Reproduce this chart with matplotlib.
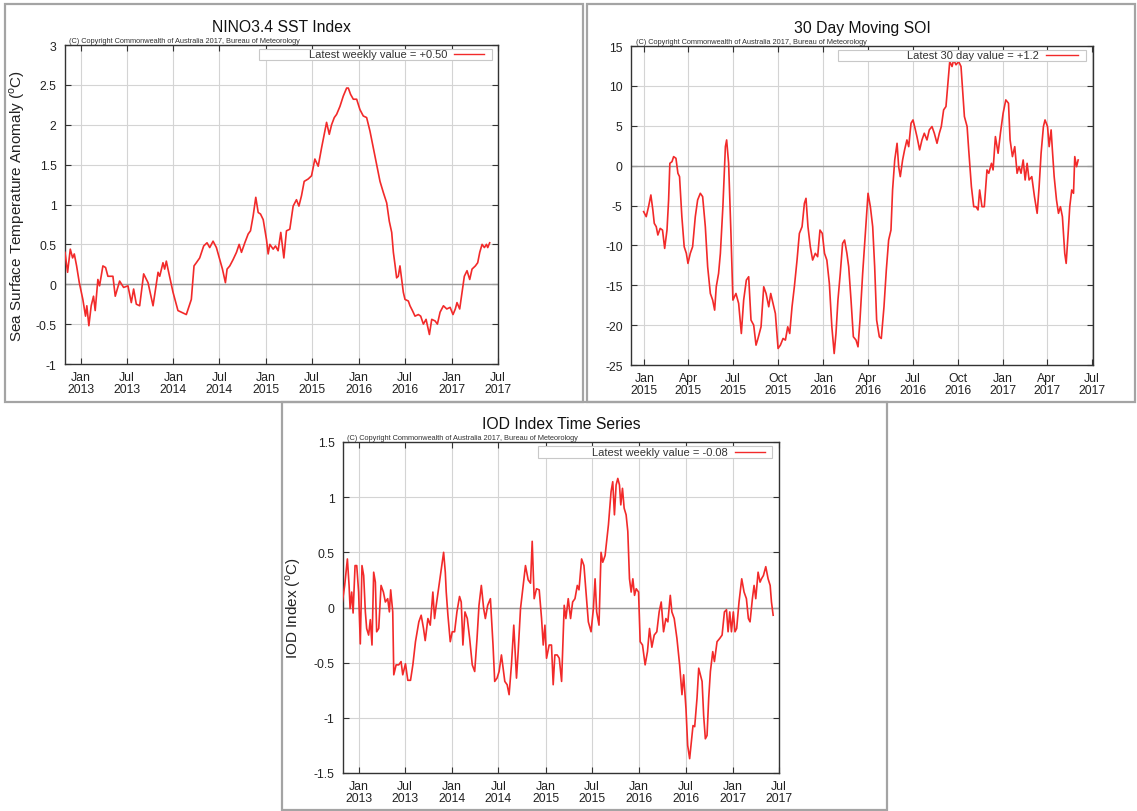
#!/usr/bin/env python3
from datetime import datetime, timedelta

import matplotlib
matplotlib.use("Agg")
import matplotlib.pyplot as plt
import matplotlib.dates as mdates
from matplotlib.patches import Rectangle
from matplotlib.lines import Line2D
from matplotlib.ticker import MultipleLocator, FuncFormatter

plt.rcParams["font.family"] = ["Liberation Sans", "DejaVu Sans"]
plt.rcParams["mathtext.fontset"] = "custom"
plt.rcParams["mathtext.rm"] = "Liberation Sans"
plt.rcParams["axes.unicode_minus"] = False

# NINO3.4 weekly SST anomaly (decimal year, degC)
nino_t = [2012.835, 2012.863, 2012.892, 2012.917, 2012.935, 2012.960, 2012.989, 2013.025,
          2013.054, 2013.068, 2013.090, 2013.115, 2013.140, 2013.158, 2013.187, 2013.205,
          2013.241, 2013.270, 2013.295, 2013.349, 2013.374, 2013.421, 2013.464, 2013.511,
          2013.547, 2013.572, 2013.601, 2013.637, 2013.680, 2013.727, 2013.781, 2013.835,
          2013.853, 2013.888, 2013.906, 2013.924, 2013.942, 2013.996, 2014.050, 2014.086,
          2014.140, 2014.194, 2014.223, 2014.248, 2014.284, 2014.327, 2014.363, 2014.392,
          2014.428, 2014.464, 2014.500, 2014.529, 2014.561, 2014.579, 2014.608, 2014.644,
          2014.680, 2014.709, 2014.734, 2014.770, 2014.806, 2014.831, 2014.860, 2014.888,
          2014.914, 2014.939, 2014.968, 2015.004, 2015.022, 2015.040, 2015.076, 2015.101,
          2015.129, 2015.158, 2015.191, 2015.219, 2015.255, 2015.291, 2015.327, 2015.353,
          2015.381, 2015.410, 2015.453, 2015.489, 2015.525, 2015.561, 2015.597, 2015.633,
          2015.651, 2015.680, 2015.705, 2015.734, 2015.759, 2015.795, 2015.831, 2015.867,
          2015.885, 2015.910, 2015.939, 2015.975, 2016.011, 2016.047, 2016.083, 2016.119,
          2016.155, 2016.191, 2016.227, 2016.263, 2016.299, 2016.327, 2016.353, 2016.371,
          2016.388, 2016.406, 2016.424, 2016.442, 2016.460, 2016.478, 2016.496, 2016.532,
          2016.550, 2016.576, 2016.604, 2016.640, 2016.665, 2016.694, 2016.723, 2016.759,
          2016.784, 2016.820, 2016.845, 2016.874, 2016.910, 2016.946, 2016.982, 2017.011,
          2017.036, 2017.054, 2017.083, 2017.108, 2017.133, 2017.162, 2017.191, 2017.216,
          2017.252, 2017.277, 2017.299, 2017.324, 2017.349, 2017.371, 2017.385, 2017.406]
nino_v = [0.40, 0.15, 0.44, 0.33, 0.38, 0.23, 0.02, -0.19,
          -0.40, -0.27, -0.52, -0.27, -0.15, -0.33, 0.06, -0.02,
          0.23, 0.21, 0.10, 0.10, -0.15, 0.04, -0.04, -0.02,
          -0.23, -0.06, -0.25, -0.27, 0.13, 0.02, -0.27, 0.15,
          0.10, 0.27, 0.19, 0.29, 0.19, -0.10, -0.33, -0.35,
          -0.38, -0.19, 0.23, 0.27, 0.33, 0.48, 0.52, 0.46,
          0.54, 0.46, 0.31, 0.19, 0.02, 0.19, 0.23, 0.31,
          0.40, 0.50, 0.40, 0.52, 0.63, 0.67, 0.86, 1.09,
          0.90, 0.88, 0.81, 0.56, 0.38, 0.50, 0.44, 0.48,
          0.42, 0.65, 0.33, 0.67, 0.69, 0.98, 1.06, 0.98,
          1.11, 1.29, 1.32, 1.36, 1.57, 1.48, 1.71, 1.92,
          2.03, 1.88, 2.00, 2.09, 2.13, 2.23, 2.36, 2.46,
          2.46, 2.38, 2.32, 2.32, 2.19, 2.11, 2.09, 1.92,
          1.71, 1.50, 1.29, 1.15, 1.02, 0.79, 0.65, 0.40,
          0.25, 0.08, 0.10, 0.23, 0.06, -0.10, -0.19, -0.21,
          -0.27, -0.33, -0.40, -0.38, -0.40, -0.50, -0.44, -0.63,
          -0.44, -0.46, -0.50, -0.35, -0.27, -0.31, -0.29, -0.38,
          -0.31, -0.23, -0.31, -0.10, 0.10, 0.17, 0.06, 0.19,
          0.23, 0.27, 0.40, 0.50, 0.46, 0.50, 0.46, 0.52]

# 30 day moving SOI (decimal year, index)
soi_t = [2014.996, 2015.011, 2015.024, 2015.037, 2015.048, 2015.056, 2015.067, 2015.076,
         2015.089, 2015.102, 2015.114, 2015.127, 2015.136, 2015.143, 2015.155, 2015.164,
         2015.177, 2015.188, 2015.197, 2015.210, 2015.223, 2015.235, 2015.244, 2015.257,
         2015.270, 2015.285, 2015.298, 2015.313, 2015.326, 2015.341, 2015.354, 2015.369,
         2015.382, 2015.393, 2015.402, 2015.415, 2015.425, 2015.439, 2015.453, 2015.460,
         2015.471, 2015.484, 2015.495, 2015.512, 2015.527, 2015.542, 2015.555, 2015.570,
         2015.583, 2015.596, 2015.611, 2015.624, 2015.635, 2015.652, 2015.667, 2015.680,
         2015.695, 2015.706, 2015.719, 2015.732, 2015.747, 2015.760, 2015.775, 2015.788,
         2015.801, 2015.812, 2015.825, 2015.838, 2015.853, 2015.866, 2015.881, 2015.894,
         2015.903, 2015.914, 2015.927, 2015.940, 2015.955, 2015.968, 2015.981, 2015.994,
         2016.007, 2016.020, 2016.034, 2016.048, 2016.061, 2016.071, 2016.082, 2016.095,
         2016.108, 2016.119, 2016.132, 2016.142, 2016.155, 2016.168, 2016.183, 2016.194,
         2016.205, 2016.220, 2016.235, 2016.250, 2016.263, 2016.276, 2016.287, 2016.298,
         2016.313, 2016.324, 2016.339, 2016.352, 2016.365, 2016.378, 2016.387, 2016.399,
         2016.412, 2016.421, 2016.430, 2016.443, 2016.454, 2016.467, 2016.477, 2016.490,
         2016.501, 2016.510, 2016.523, 2016.538, 2016.551, 2016.564, 2016.579, 2016.592,
         2016.607, 2016.620, 2016.635, 2016.648, 2016.659, 2016.672, 2016.685, 2016.696,
         2016.706, 2016.719, 2016.728, 2016.741, 2016.756, 2016.769, 2016.778, 2016.788,
         2016.803, 2016.812, 2016.827, 2016.840, 2016.853, 2016.864, 2016.873, 2016.886,
         2016.899, 2016.914, 2016.924, 2016.939, 2016.948, 2016.961, 2016.976, 2016.989,
         2017.002, 2017.017, 2017.032, 2017.041, 2017.054, 2017.067, 2017.080, 2017.091,
         2017.102, 2017.114, 2017.125, 2017.136, 2017.147, 2017.162, 2017.177, 2017.192,
         2017.203, 2017.214, 2017.227, 2017.236, 2017.250, 2017.259, 2017.270, 2017.277,
         2017.287, 2017.300, 2017.311, 2017.322, 2017.333, 2017.346, 2017.354, 2017.365,
         2017.374, 2017.385, 2017.395, 2017.402, 2017.412, 2017.421]
soi_v = [-5.77, -6.40, -5.15, -3.68, -5.56, -7.24, -7.66, -8.70,
         -7.87, -8.08, -10.38, -8.08, -4.31, 0.29, 0.50, 1.13,
         0.92, -0.96, -1.38, -6.40, -10.17, -11.00, -12.26, -11.00,
         -10.17, -6.40, -4.31, -3.47, -3.89, -7.66, -12.68, -16.03,
         -16.86, -18.12, -15.19, -13.51, -11.00, -5.15, 2.38, 3.22,
         0.29, -8.50, -16.86, -16.03, -17.28, -21.05, -16.86, -14.35,
         -13.93, -19.37, -20.00, -22.51, -21.67, -20.21, -15.19, -16.03,
         -17.70, -16.03, -17.28, -18.54, -22.93, -22.51, -21.67, -21.88,
         -20.21, -21.05, -17.70, -15.19, -11.84, -8.50, -7.66, -4.73,
         -4.10, -7.66, -10.17, -11.84, -11.00, -11.42, -8.08, -8.50,
         -11.00, -11.84, -14.77, -20.21, -23.56, -21.05, -16.86, -13.51,
         -9.75, -9.33, -11.00, -12.68, -16.86, -21.46, -21.88, -22.72,
         -19.37, -13.51, -8.50, -3.47, -5.15, -7.66, -12.68, -19.37,
         -21.46, -21.67, -17.70, -13.10, -9.33, -8.08, -3.05, 0.71,
         2.80, -0.13, -1.38, 0.71, 1.97, 3.22, 2.38, 5.31,
         5.73, 4.90, 3.64, 1.97, 3.22, 4.06, 3.22, 4.48,
         4.90, 4.06, 2.80, 4.06, 4.90, 6.99, 7.41, 10.33,
         13.05, 12.43, 13.26, 12.64, 13.05, 12.43, 9.50, 6.15,
         4.90, 1.97, -2.64, -5.15, -5.15, -5.56, -3.05, -5.15,
         -5.15, -0.54, -0.96, 0.29, -0.54, 3.64, 1.55, 4.06,
         6.57, 8.24, 7.82, 3.22, 1.13, 2.38, -0.96, -0.13,
         -0.96, 0.71, -1.80, 0.29, -1.80, -1.38, -3.89, -5.98,
         -2.64, 1.55, 4.90, 5.73, 4.90, 2.38, 4.48, 1.97,
         -1.38, -4.31, -5.98, -5.15, -6.40, -11.00, -12.26, -8.50,
         -5.15, -3.05, -3.47, 1.13, -0.13, 0.71]

# IOD weekly index (decimal year, degC)
iod_t = [2012.828, 2012.853, 2012.882, 2012.900, 2012.911, 2012.928, 2012.943, 2012.964,
         2012.982, 2013.000, 2013.018, 2013.036, 2013.054, 2013.072, 2013.086, 2013.107,
         2013.125, 2013.143, 2013.161, 2013.179, 2013.193, 2013.215, 2013.240, 2013.265,
         2013.286, 2013.311, 2013.329, 2013.343, 2013.365, 2013.376, 2013.401, 2013.429,
         2013.454, 2013.472, 2013.501, 2013.526, 2013.555, 2013.580, 2013.608, 2013.644,
         2013.669, 2013.694, 2013.712, 2013.741, 2013.766, 2013.794, 2013.812, 2013.830,
         2013.855, 2013.884, 2013.909, 2013.927, 2013.937, 2013.955, 2013.980, 2014.002,
         2014.027, 2014.052, 2014.080, 2014.098, 2014.116, 2014.138, 2014.163, 2014.188,
         2014.216, 2014.242, 2014.267, 2014.288, 2014.313, 2014.338, 2014.356, 2014.381,
         2014.410, 2014.438, 2014.456, 2014.481, 2014.503, 2014.528, 2014.546, 2014.564,
         2014.589, 2014.610, 2014.635, 2014.660, 2014.689, 2014.707, 2014.732, 2014.760,
         2014.785, 2014.814, 2014.839, 2014.857, 2014.878, 2014.903, 2014.932, 2014.957,
         2014.975, 2014.993, 2015.011, 2015.039, 2015.064, 2015.082, 2015.100, 2015.125,
         2015.147, 2015.172, 2015.200, 2015.218, 2015.243, 2015.268, 2015.290, 2015.315,
         2015.340, 2015.358, 2015.386, 2015.411, 2015.433, 2015.458, 2015.487, 2015.512,
         2015.530, 2015.547, 2015.572, 2015.594, 2015.612, 2015.637, 2015.673, 2015.701,
         2015.719, 2015.737, 2015.755, 2015.773, 2015.791, 2015.805, 2015.823, 2015.841,
         2015.862, 2015.880, 2015.898, 2015.916, 2015.934, 2015.952, 2015.970, 2015.995,
         2016.013, 2016.038, 2016.066, 2016.091, 2016.113, 2016.138, 2016.163, 2016.191,
         2016.216, 2016.238, 2016.263, 2016.288, 2016.309, 2016.335, 2016.352, 2016.377,
         2016.406, 2016.435, 2016.460, 2016.478, 2016.503, 2016.521, 2016.542, 2016.560,
         2016.578, 2016.596, 2016.621, 2016.639, 2016.657, 2016.675, 2016.692, 2016.710,
         2016.728, 2016.746, 2016.764, 2016.789, 2016.807, 2016.835, 2016.864, 2016.889,
         2016.914, 2016.936, 2016.953, 2016.971, 2016.989, 2017.007, 2017.025, 2017.043,
         2017.068, 2017.097, 2017.122, 2017.147, 2017.168, 2017.186, 2017.211, 2017.229,
         2017.247, 2017.272, 2017.293, 2017.308, 2017.329, 2017.354, 2017.379, 2017.401,
         2017.415, 2017.433]
iod_v = [0.05, 0.20, 0.44, 0.20, -0.01, 0.14, -0.05, 0.38,
         0.38, 0.14, -0.33, 0.38, 0.29, -0.04, -0.19, -0.25,
         -0.11, -0.34, 0.32, 0.23, -0.22, -0.19, 0.20, 0.14,
         0.05, 0.08, -0.04, 0.16, -0.04, -0.61, -0.52, -0.52,
         -0.49, -0.61, -0.51, -0.66, -0.66, -0.52, -0.31, -0.13,
         -0.07, -0.19, -0.30, -0.10, -0.16, 0.14, -0.10, 0.02,
         0.17, 0.34, 0.50, 0.32, 0.14, -0.07, -0.31, -0.22,
         -0.22, -0.04, 0.10, 0.05, -0.34, -0.04, -0.10, -0.28,
         -0.52, -0.58, -0.28, 0.02, 0.20, -0.01, -0.10, 0.02,
         0.08, -0.34, -0.67, -0.64, -0.58, -0.43, -0.55, -0.67,
         -0.70, -0.79, -0.52, -0.16, -0.64, -0.40, -0.01, 0.20,
         0.38, 0.25, 0.22, 0.60, 0.08, 0.17, 0.16, -0.10,
         -0.34, -0.16, -0.46, -0.34, -0.34, -0.70, -0.43, -0.43,
         -0.46, -0.67, 0.02, -0.10, 0.08, -0.10, 0.05, 0.08,
         0.20, 0.16, 0.44, 0.38, 0.14, -0.13, -0.22, -0.01,
         0.26, -0.04, -0.16, 0.50, 0.41, 0.47, 0.75, 1.05,
         1.14, 0.84, 1.11, 1.17, 1.11, 0.93, 1.08, 0.90,
         0.84, 0.69, 0.26, 0.14, 0.26, 0.11, 0.17, 0.14,
         -0.31, -0.34, -0.52, -0.40, -0.19, -0.36, -0.25, -0.22,
         -0.04, 0.05, -0.22, -0.10, -0.13, 0.11, -0.04, -0.10,
         -0.28, -0.52, -0.79, -0.61, -0.92, -1.25, -1.37, -1.22,
         -1.07, -1.08, -0.82, -0.55, -0.61, -0.67, -0.98, -1.19,
         -1.16, -0.82, -0.58, -0.40, -0.49, -0.31, -0.28, -0.25,
         -0.04, -0.02, -0.22, -0.04, -0.22, -0.04, -0.22, -0.19,
         0.05, 0.26, 0.14, 0.08, -0.10, -0.13, 0.08, 0.20,
         0.08, 0.32, 0.23, 0.26, 0.29, 0.37, 0.26, 0.20,
         0.05, -0.07]

W, H = 1137, 812
RED = "#f22a2a"
COPYRIGHT = "(C) Copyright Commonwealth of Australia 2017, Bureau of Meteorology"


def to_dates(years):
    out = []
    for y in years:
        yr = int(y)
        out.append(datetime(yr, 1, 1) + timedelta(days=(y - yr) * 365.25))
    return out


def axes_px(fig, left, top, right, bottom):
    # box given in figure pixels, origin top-left
    return fig.add_axes([left / W, 1 - bottom / H, (right - left) / W, (bottom - top) / H])


def frame_px(fig, left, top, right, bottom):
    fig.add_artist(Rectangle((left / W, 1 - bottom / H), (right - left) / W, (bottom - top) / H,
                             transform=fig.transFigure, fill=False,
                             edgecolor="#a4a4a4", linewidth=1.6))


def style_panel(ax, title, ylim, ystep, xlim, months, legend_text, ylabel=None):
    ax.set_xlim(xlim)
    ax.set_ylim(ylim)
    ax.yaxis.set_major_locator(MultipleLocator(ystep))
    ax.yaxis.set_major_formatter(FuncFormatter(lambda v, p: f"{v:g}"))
    ax.xaxis.set_major_locator(mdates.MonthLocator(bymonth=months))
    ax.xaxis.set_major_formatter(mdates.DateFormatter("%b\n%Y"))
    ax.tick_params(axis="both", direction="in", top=True, right=True, length=4,
                   width=0.8, color="#333333", labelsize=8.8, labelcolor="#222222")
    ax.tick_params(axis="y", pad=6)
    ax.tick_params(axis="x", pad=5)
    for lab in ax.get_xticklabels():
        lab.set_linespacing(1.05)
    ax.grid(True, color="#d4d4d4", linewidth=0.8)
    ax.set_axisbelow(True)
    ax.axhline(0, color="#9a9a9a", linewidth=1.0, zorder=1.5)
    for sp in ax.spines.values():
        sp.set_color("#333333")
        sp.set_linewidth(1.0)
    ax.set_title(title, fontsize=11.3, pad=10, color="#111111")
    ax.text(0.01, 1.004, COPYRIGHT, transform=ax.transAxes, fontsize=5.3,
            ha="left", va="bottom", color="#333333")
    # gnuplot style key box
    ax.add_patch(Rectangle((0.448, 0.953), 0.537, 0.036, transform=ax.transAxes,
                           facecolor="white", edgecolor="#c8c8c8", linewidth=0.8, zorder=4))
    ax.text(0.882, 0.971, legend_text, transform=ax.transAxes, fontsize=8,
            ha="right", va="center", color="#333333", zorder=5)
    ax.add_line(Line2D([0.898, 0.967], [0.971, 0.971], transform=ax.transAxes,
                       color=RED, linewidth=1.0, zorder=5))
    if ylabel:
        ax.set_ylabel(ylabel, fontsize=11, color="#222222")


fig = plt.figure(figsize=(W / 100, H / 100), dpi=100)
fig.patch.set_facecolor("white")

frame_px(fig, 5, 5, 583, 403)
frame_px(fig, 587, 5, 1135, 403)
frame_px(fig, 282, 403, 887, 811)

ax1 = axes_px(fig, 65, 46, 498, 365)
ax1.plot(to_dates(nino_t), nino_v, color=RED, linewidth=1.2, zorder=3)
style_panel(ax1, "NINO3.4 SST Index", (-1, 3), 0.5,
            (datetime(2012, 11, 1), datetime(2017, 7, 1)), [1, 7],
            "Latest weekly value = +0.50",
            r"Sea Surface Temperature Anomaly ($^{\mathrm{o}}$C)")
ax1.yaxis.set_label_coords(-0.088, 0.5)

ax2 = axes_px(fig, 631, 47, 1093, 366)
ax2.plot(to_dates(soi_t), soi_v, color=RED, linewidth=1.2, zorder=3)
style_panel(ax2, "30 Day Moving SOI", (-25, 15), 5,
            (datetime(2014, 12, 5), datetime(2017, 7, 4)), [1, 4, 7, 10],
            "Latest 30 day value = +1.2")

ax3 = axes_px(fig, 343, 443, 779, 774)
ax3.plot(to_dates(iod_t), iod_v, color=RED, linewidth=1.2, zorder=3)
style_panel(ax3, "IOD Index Time Series", (-1.5, 1.5), 0.5,
            (datetime(2012, 11, 1), datetime(2017, 7, 1)), [1, 7],
            "Latest weekly value = -0.08",
            r"IOD Index ($^{\mathrm{o}}$C)")
ax3.yaxis.set_label_coords(-0.092, 0.5)

fig.savefig("out.png", dpi=100)
